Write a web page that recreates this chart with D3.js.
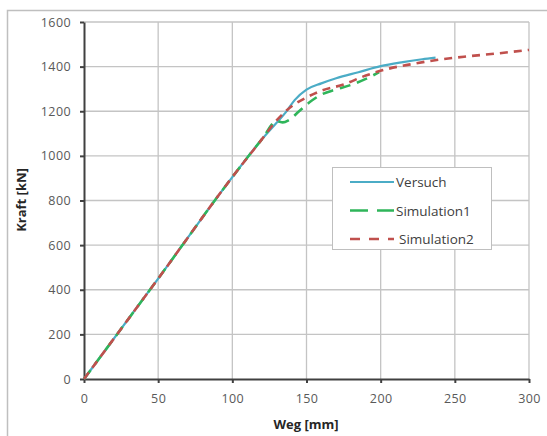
<!DOCTYPE html>
<html>
<head>
<meta charset="utf-8">
<script src="https://cdn.jsdelivr.net/npm/d3@7"></script>
<style>
    body { margin: 0; background: #fff; }
    text { font-family: "Open Sans", "Liberation Sans", sans-serif; }
</style>
</head>
<body>
<div id="chart"></div>
<script>
// data
var xTicks = [0, 50, 100, 150, 200, 250, 300];
var yTicks = [0, 200, 400, 600, 800, 1000, 1200, 1400, 1600];

var versuchWeg   = [0, 50, 100, 120, 130, 136, 142, 150, 160, 170, 185, 200, 215, 228, 237];
var versuchKraft = [0, 450, 905, 1075, 1150, 1195, 1250, 1297, 1325, 1348, 1375, 1402, 1420, 1433, 1440];

var sim1Weg   = [0, 50, 100, 120, 130, 134, 138, 145, 152, 160, 170, 180, 190, 199];
var sim1Kraft = [0, 450, 905, 1075, 1155, 1150, 1160, 1200, 1240, 1275, 1298, 1318, 1345, 1375];

var sim2Weg   = [0, 50, 100, 120, 130, 140, 150, 160, 175, 190, 205, 220, 240, 260, 280, 300];
var sim2Kraft = [0, 450, 905, 1075, 1160, 1222, 1262, 1292, 1320, 1360, 1390, 1410, 1432, 1447, 1460, 1475];

var seriesNames = ["Versuch", "Simulation1", "Simulation2"];

function init() {
    var w = 547;
    var h = 436;
    var left = 84, right = 529, top = 22, bottom = 379;

    var series = [
        { name: seriesNames[0], x: versuchWeg, y: versuchKraft, color: "#4bacc6", dash: null, width: 2.2 },
        { name: seriesNames[1], x: sim1Weg, y: sim1Kraft, color: "#2fb55a", dash: "11,7", width: 2.6 },
        { name: seriesNames[2], x: sim2Weg, y: sim2Kraft, color: "#c0504d", dash: "8,6", width: 2.6 }
    ];

    var xScale = d3.scaleLinear().domain([0, 300]).range([left, right]);
    var yScale = d3.scaleLinear().domain([0, 1600]).range([bottom, top]);

    var svg = d3.select("#chart")
        .append("svg")
        .attr("width", w)
        .attr("height", h);

    // outer chart border
    svg.append("rect")
        .attr("x", 7.5).attr("y", 10.5)
        .attr("width", 560).attr("height", 440)
        .attr("fill", "none")
        .attr("stroke", "#bfbfbf")
        .attr("stroke-width", 1.5);

    // gridlines
    svg.append("g").selectAll("line.v")
        .data(xTicks.slice(1))
        .enter().append("line")
        .attr("x1", function (d) { return xScale(d); })
        .attr("x2", function (d) { return xScale(d); })
        .attr("y1", top).attr("y2", bottom)
        .attr("stroke", "#c4c4c4").attr("stroke-width", 1.3);

    svg.append("g").selectAll("line.h")
        .data(yTicks.slice(1))
        .enter().append("line")
        .attr("x1", left).attr("x2", right)
        .attr("y1", function (d) { return yScale(d); })
        .attr("y2", function (d) { return yScale(d); })
        .attr("stroke", "#c4c4c4").attr("stroke-width", 1.3);

    // axes
    var xAxis = d3.axisBottom(xScale).tickValues(xTicks).tickFormat(d3.format("d"))
        .tickSize(4).tickSizeOuter(0).tickPadding(11);
    var yAxis = d3.axisLeft(yScale).tickValues(yTicks).tickFormat(d3.format("d"))
        .tickSize(4).tickSizeOuter(0).tickPadding(9);

    var gx = svg.append("g")
        .attr("transform", "translate(0," + bottom + ")")
        .call(xAxis);
    var gy = svg.append("g")
        .attr("transform", "translate(" + left + ",0)")
        .call(yAxis);

    [gx, gy].forEach(function (g) {
        g.select(".domain").attr("stroke", "#404040").attr("stroke-width", 2);
        g.selectAll(".tick line").attr("stroke", "#404040").attr("stroke-width", 2);
        g.selectAll(".tick text")
            .attr("fill", "#595959")
            .style("font-size", "12.5px")
            .style("letter-spacing", "0.4px");
    });

    // series lines, Versuch underneath
    var line = d3.line()
        .x(function (d) { return xScale(d[0]); })
        .y(function (d) { return yScale(d[1]); })
        .curve(d3.curveMonotoneX);

    series.forEach(function (s) {
        svg.append("path")
            .datum(d3.zip(s.x, s.y))
            .attr("fill", "none")
            .attr("stroke", s.color)
            .attr("stroke-width", s.width)
            .attr("stroke-dasharray", s.dash)
            .attr("d", line);
    });

    // axis titles
    svg.append("text")
        .attr("x", 306).attr("y", 429)
        .attr("text-anchor", "middle")
        .attr("font-weight", "bold")
        .attr("fill", "#262626")
        .style("font-size", "13px")
        .text("Weg [mm]");

    svg.append("text")
        .attr("transform", "translate(26,200) rotate(-90)")
        .attr("text-anchor", "middle")
        .attr("font-weight", "bold")
        .attr("fill", "#262626")
        .style("font-size", "13px")
        .text("Kraft [kN]");

    // legend
    var legend = svg.append("g").attr("transform", "translate(332,167)");
    legend.append("rect")
        .attr("x", 0.5).attr("y", 0.5)
        .attr("width", 159).attr("height", 82)
        .attr("fill", "#fff")
        .attr("stroke", "#bfbfbf");

    series.forEach(function (s, i) {
        var ly = 15 + i * 28.5;
        legend.append("line")
            .attr("x1", 18).attr("x2", 62)
            .attr("y1", ly).attr("y2", ly)
            .attr("stroke", s.color)
            .attr("stroke-width", s.width)
            .attr("stroke-dasharray", i === 1 ? "18,9" : (i === 2 ? "10,9" : null));
        legend.append("text")
            .attr("x", i === 2 ? 67 : 64).attr("y", ly + 5)
            .attr("fill", "#404040")
            .style("font-size", "13.5px")
            .text(s.name);
    });
}

window.onload = init;
</script>
</body>
</html>
